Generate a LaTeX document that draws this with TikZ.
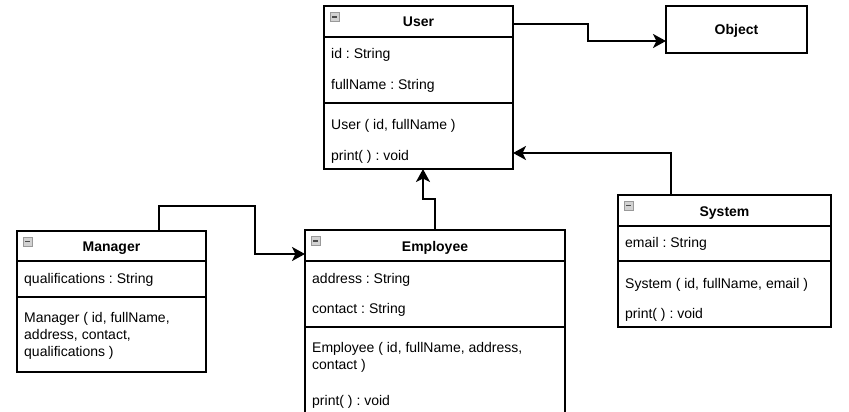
\documentclass[tikz,border=0pt]{standalone}
\usepackage{fontspec}
\setmainfont{Liberation Sans}
\usetikzlibrary{arrows.meta}
\frenchspacing
\begin{document}
\frenchspacing
\begin{tikzpicture}[x=1pt,y=-1pt,
  classbox/.style={draw=black, line width=1.2pt, fill=white, rectangle, inner sep=0pt, outer sep=0pt, anchor=north west},
  member/.style={anchor=west, inner sep=0pt, yshift=-2.5pt, text height=10pt, text depth=3pt, font=\fontsize{14}{17}\selectfont},
  multimember/.style={anchor=north west, inner sep=0pt, yshift=-6pt, align=left, font=\fontsize{14}{17}\selectfont},
  classtitle/.style={inner sep=0pt, yshift=-2pt, text height=10pt, text depth=3pt, font=\fontsize{14}{17}\selectfont\bfseries},
  sepline/.style={line width=1.2pt},
  minusicon/.style={draw=gray!80, fill=gray!35, line width=0.6pt, minimum size=9pt, inner sep=0pt, outer sep=0pt, anchor=north west,
    path picture={\draw[line width=1.4pt, black!70] ([xshift=2pt]path picture bounding box.west) -- ([xshift=-2pt]path picture bounding box.east);}},
  link/.style={line width=2.4pt, line join=miter, -{Stealth[length=13pt,width=14pt,inset=3.5pt]}}
]
\clip (0,0) rectangle (849,412);
\fill[white] (0,0) rectangle (849,412);

% ---------- User ----------
\node[classbox, minimum width=189pt, minimum height=163pt] (user) at (324,6) {};
\draw[sepline] (user.west |- 0,37) -- (user.east |- 0,37);
\draw[sepline] (user.west |- 0,103) -- (user.east |- 0,103);
\node[minusicon] (uicon) at (330,12.5) {};
\node[classtitle] (ut) at (418.5,21.5) {User};
\node[member] (ua1) at (331,52.5) {id : String};
\node[member] (ua2) at (331,83) {fullName : String};
\node[member] (um1) at (331,123.5) {User ( id, fullName )};
\node[member] (um2) at (331,154) {print( ) : void};

% ---------- Object ----------
\node[classbox, minimum width=141pt, minimum height=47pt] (object) at (666,6) {};
\node[classtitle] (ot) at (736.5,29.5) {Object};

% ---------- System ----------
\node[classbox, minimum width=213pt, minimum height=132pt] (system) at (618,195) {};
\draw[sepline] (system.west |- 0,226) -- (system.east |- 0,226);
\draw[sepline] (system.west |- 0,261) -- (system.east |- 0,261);
\node[minusicon] (sicon) at (624,201) {};
\node[classtitle] (st) at (724.5,211) {System};
\node[member] (sa1) at (625,241) {email : String};
\node[member] (sm1) at (625,282) {System ( id, fullName, email )};
\node[member] (sm2) at (625,312) {print( ) : void};

% ---------- Manager ----------
\node[classbox, minimum width=189pt, minimum height=141pt] (manager) at (17,231) {};
\draw[sepline] (manager.west |- 0,261) -- (manager.east |- 0,261);
\draw[sepline] (manager.west |- 0,297) -- (manager.east |- 0,297);
\node[minusicon] (micon) at (23,237) {};
\node[classtitle] (mt) at (111.5,246) {Manager};
\node[member] (ma1) at (24,277) {qualifications : String};
\node[multimember] (mm1) at (24,306.5) {Manager ( id, fullName,\\address, contact,\\qualifications )};

% ---------- Employee ----------
\node[classbox, minimum width=260pt, minimum height=200pt] (employee) at (305,230) {};
\draw[sepline] (employee.west |- 0,261) -- (employee.east |- 0,261);
\draw[sepline] (employee.west |- 0,327) -- (employee.east |- 0,327);
\node[minusicon] (eicon) at (311,236.5) {};
\node[classtitle] (et) at (435,246) {Employee};
\node[member] (ea1) at (312,277) {address : String};
\node[member] (ea2) at (312,307) {contact : String};
\node[multimember] (em1) at (312,336.5) {Employee ( id, fullName, address,\\contact )};
\node[member] (em2) at (312,399) {print( ) : void};

% ---------- Connectors ----------
\draw[link] ([yshift=-18pt]user.north east) -- ++(75,0) |- ([yshift=-11.5pt]object.west);
\draw[link] ([xshift=-53.5pt]system.north) |- ([yshift=16pt]user.south east);
\draw[link] (employee.north) -- ++(0,-31) -| ([xshift=4.5pt]user.south);
\draw[link] ([xshift=47.5pt]manager.north) |- (255,206) |- ([yshift=-24pt]employee.north west);
\end{tikzpicture}
\end{document}
